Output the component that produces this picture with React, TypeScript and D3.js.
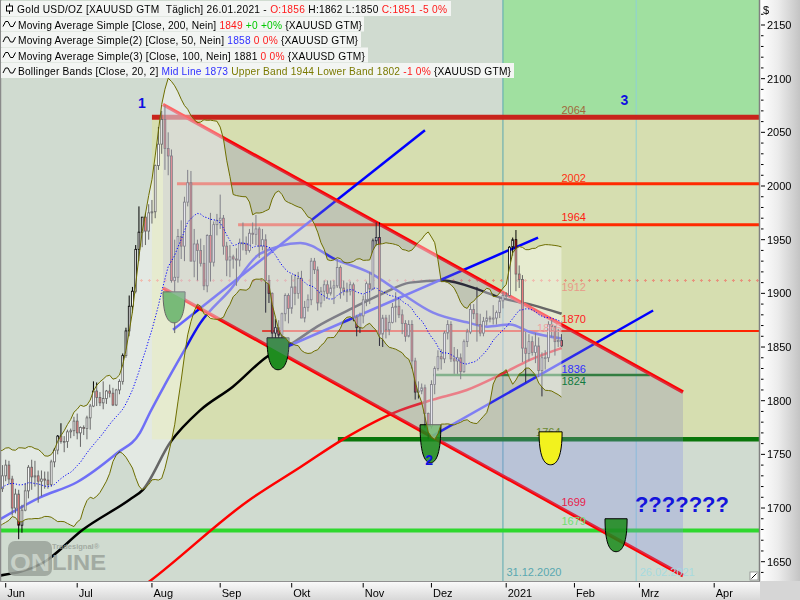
import React from 'react';
import * as d3 from 'd3';

// ---------- DATA ----------
// weekday bar index: 0 = 1 Jun 2020
const FIRST_BAR = -21; // first candle = 1 May 2020
// [open, high, low, close]
const candles: number[][] = [
  // May 2020
  [1687,1703,1680,1700],[1700,1715,1692,1702],[1702,1711,1698,1705],[1705,1708,1681,1685],[1685,1726,1683,1725],
  [1725,1727,1698,1702],[1702,1714,1693,1697],[1697,1707,1693,1701],[1701,1717,1698,1715],[1715,1736,1710,1731],
  [1731,1746,1727,1743],[1743,1765,1726,1733],[1733,1749,1726,1745],[1745,1751,1740,1748],[1748,1749,1718,1726],
  [1726,1737,1722,1735],[1735,1737,1724,1728],[1728,1735,1700,1710],[1710,1716,1693,1708],[1708,1727,1700,1718],
  [1718,1740,1715,1730],
  // Jun 2020
  [1730,1745,1725,1740],[1740,1744,1722,1727],[1727,1730,1693,1700],[1700,1718,1695,1713],[1713,1717,1671,1684],
  [1684,1703,1677,1698],[1698,1723,1697,1716],[1716,1740,1709,1738],[1738,1745,1717,1729],[1729,1744,1720,1730],
  [1730,1735,1705,1725],[1725,1735,1711,1727],[1727,1734,1718,1726],[1726,1734,1718,1722],[1722,1745,1720,1743],
  [1743,1756,1738,1754],[1754,1768,1750,1767],[1767,1779,1760,1762],[1762,1767,1752,1762],[1762,1773,1756,1771],
  [1771,1774,1765,1772],[1772,1785,1767,1781],
  // Jul 2020
  [1781,1788,1764,1770],[1770,1776,1757,1775],[1775,1777,1768,1774],[1774,1786,1764,1784],[1784,1797,1773,1795],
  [1795,1818,1794,1809],[1809,1817,1795,1803],[1803,1808,1795,1798],[1798,1818,1792,1802],[1802,1810,1797,1809],
  [1809,1815,1803,1807],[1807,1812,1795,1796],[1796,1811,1795,1810],[1810,1820,1806,1818],[1818,1844,1815,1842],
  [1842,1868,1840,1865],[1865,1898,1860,1888],[1888,1906,1882,1902],[1902,1945,1900,1941],[1941,1981,1930,1957],
  [1957,1970,1943,1971],[1971,1975,1945,1958],[1958,1983,1950,1975],
  // Aug 2020
  [1975,1987,1965,1976],[1976,2020,1970,2019],[2019,2055,2015,2039],[2039,2070,2030,2062],[2062,2075,2015,2035],
  [2035,2050,2010,2028],[2028,2034,1910,1912],[1912,1950,1863,1915],[1915,1960,1910,1953],[1953,1968,1932,1944],
  [1944,1990,1930,1985],[1985,2015,1981,2003],[2003,2014,1930,1930],[1930,1960,1915,1946],[1946,1950,1912,1940],
  [1940,1951,1925,1928],[1928,1945,1903,1907],[1907,1955,1901,1954],[1954,1975,1911,1929],[1929,1967,1925,1964],
  [1964,1974,1954,1968],
  // Sep 2020
  [1968,1992,1960,1970],[1970,1973,1936,1944],[1944,1948,1916,1931],[1931,1945,1915,1934],[1934,1936,1923,1932],
  [1932,1942,1907,1931],[1931,1951,1925,1947],[1947,1966,1940,1946],[1946,1953,1936,1940],[1940,1960,1938,1956],
  [1956,1966,1946,1955],[1955,1973,1945,1960],[1960,1962,1933,1944],[1944,1960,1940,1950],[1950,1955,1882,1912],
  [1912,1917,1891,1900],[1900,1901,1855,1863],[1863,1876,1848,1868],[1868,1875,1849,1861],[1861,1882,1855,1881],
  [1881,1900,1874,1898],[1898,1900,1872,1886],
  // Oct 2020
  [1886,1917,1881,1906],[1906,1918,1889,1900],[1900,1920,1895,1914],[1914,1921,1877,1877],[1877,1893,1873,1887],
  [1887,1899,1883,1894],[1894,1933,1889,1930],[1930,1933,1918,1922],[1922,1925,1884,1891],[1891,1906,1887,1902],
  [1902,1912,1893,1908],[1908,1912,1895,1900],[1900,1912,1898,1905],[1905,1912,1890,1907],[1907,1932,1905,1924],
  [1924,1926,1895,1905],[1905,1912,1898,1902],[1902,1910,1892,1902],[1902,1911,1898,1908],[1908,1910,1874,1878],
  [1878,1880,1860,1868],[1868,1882,1863,1879],
  // Nov 2020
  [1879,1898,1872,1894],[1894,1911,1888,1909],[1909,1920,1890,1904],[1904,1951,1903,1949],[1949,1966,1944,1952],
  [1952,1966,1851,1862],[1862,1880,1850,1877],[1877,1880,1858,1866],[1866,1880,1861,1873],[1873,1891,1872,1887],
  [1887,1901,1873,1888],[1888,1895,1877,1880],[1880,1885,1862,1872],[1872,1875,1855,1860],[1860,1875,1859,1871],
  [1871,1875,1830,1837],[1837,1840,1801,1808],[1808,1818,1802,1809],[1809,1816,1806,1812],[1812,1815,1775,1788],
  [1788,1789,1764,1776],
  // Dec 2020
  [1776,1819,1774,1815],[1815,1832,1806,1830],[1830,1847,1828,1841],[1841,1848,1829,1839],[1839,1865,1835,1863],
  [1863,1875,1857,1871],[1871,1874,1836,1839],[1839,1850,1825,1837],[1837,1848,1825,1840],[1840,1844,1820,1827],
  [1827,1857,1826,1855],[1855,1867,1850,1864],[1864,1890,1862,1885],[1885,1890,1876,1881],[1881,1906,1855,1871],
  [1871,1881,1860,1863],[1863,1878,1860,1874],[1874,1884,1870,1877],[1877,1879,1873,1876],[1876,1889,1871,1877],
  [1877,1884,1871,1882],[1882,1896,1877,1893],[1893,1901,1886,1898],
  // Jan 2021
  [1898,1901,1895,1898],[1898,1944,1897,1943],[1943,1952,1935,1950],[1950,1959,1902,1918],[1918,1926,1905,1913],
  [1913,1917,1836,1849],[1849,1864,1817,1844],[1844,1862,1837,1855],[1855,1860,1842,1845],[1845,1863,1835,1851],
  [1851,1859,1822,1828],[1828,1845,1804,1840],[1840,1847,1829,1840],[1840,1874,1836,1871],[1871,1875,1859,1869],
  [1869,1870,1842,1855],[1855,1867,1850,1856],[1856,1862,1850,1851],
];

const monthLabels = ['Jun', 'Jul', 'Aug', 'Sep', 'Okt', 'Nov', 'Dez', '2021', 'Feb', 'Mrz', 'Apr'];
const monthStarts = [0, 22, 45, 66, 88, 110, 131, 154, 175, 195, 218];

// moving averages: [bar index, value]
const sma50: number[][] = [
  [-2,1689],[10.6,1710],[21.9,1724],[34.2,1751],[41.3,1770],[44.4,1789],[49,1815],[54.6,1845],[59.8,1872],
  [69,1903],[78.3,1937],[90.6,1947],[101.9,1931],[112.1,1919],[121.3,1901],[131.5,1882],[141.9,1873],
  [148.1,1869],[155.2,1871],[161.3,1864],[171,1858],
];
const sma100: number[][] = [
  [-2,1637],[11.5,1649],[23.8,1680],[38.2,1708],[42.2,1717],[50.6,1761],[59.8,1791],[69.9,1813],[80.4,1841],
  [88.4,1854],[95.8,1869],[105.9,1885],[116.1,1900],[124.4,1910],[134.6,1912],[145.9,1903],[152.1,1896],
  [162.2,1889],[171,1881],
];
const sma200: number[][] = [
  [40,1622],[44.4,1632],[75.2,1708],[90.6,1738],[103.8,1764],[121.3,1791],[131.5,1801],[141.9,1810],
  [152.1,1824],[161.3,1838],[171,1849],
];

// channel (two parallel red lines) and blue trend lines: [[idx, price], [idx, price]]
const channelUpper = [[48.4, 2076], [208.4, 1808]];
const channelLower = [[48.4, 1905], [208.4, 1637]];
const trendLines = [
  [[51.5, 1866], [129, 2052]],
  [[84, 1847], [163.8, 1952]],
  [[131.2, 1767], [199.2, 1884]],
];

// horizontal levels
const levelPrices = [2064, 2002, 1964, 1912, 1865, 1824, 1764, 1679];
const levelFrom = [45, 52.7, 71.5, 41.3, 78.9, 131.5, 102.2, -3];
const levelTo = [240, 240, 240, 240, 240, 198.2, 240, 240];

const levelLabels = ['2064', '2002', '1964', '1912', '1870', '1865', '1836', '1824', '1764', '1699', '1679'];
const levelLabelIdx = [171, 171, 171, 171, 171, 163.5, 171, 171, 163.2, 171, 171];
const levelLabelPrice = [2067.1, 2003.8, 1967, 1902.3, 1872.5, 1864.2, 1826, 1814.3, 1767.3, 1701.7, 1684.4];

// vertical date markers
const dateMarks = ['31.12.2020', '26.02.2021'];
const dateMarkIdx = [153, 194];

// zones: green (top right) and khaki
const greenZone = { from: 153, top: 2200, bottom: 2064 };
const khakiZone = { from: 45, top: 2064, bottom: 1764 };

// "cup" markers: [idxLeft, idxRight, priceTop, priceBottom]
const cups = [
  [48.4, 55.2, 1901.4, 1872.5],
  [80.4, 87.2, 1858.6, 1828.8],
  [127.5, 133.9, 1777.6, 1742.2],
  [164.1, 171.2, 1771, 1740.3],
  [184.4, 191.2, 1690, 1659.3],
];

// wave annotations
const waveTexts = ['1', '2', '3', '???????'];
const waveIdx = [40.7, 129.1, 189.2, 193.6];
const wavePrice = [2072.7, 1740.5, 2075.5, 1696.5];

const legendRows = [
  [['Gold USD/OZ [XAUUSD GTM  Täglich] 26.01.2021 - ', 'k'], ['O:1856', 'r'], [' H:1862 L:1850 ', 'k'], ['C:1851 -5 0%', 'r']],
  [['Moving Average Simple [Close, 200, Nein] ', 'k'], ['1849', 'r'], [' +0 +0%', 'g'], [' {XAUUSD GTM}', 'k']],
  [['Moving Average Simple(2) [Close, 50, Nein] ', 'k'], ['1858', 'b'], [' 0 0%', 'r'], [' {XAUUSD GTM}', 'k']],
  [['Moving Average Simple(3) [Close, 100, Nein] 1881', 'k'], [' 0 0%', 'r'], [' {XAUUSD GTM}', 'k']],
  [['Bollinger Bands [Close, 20, 2] ', 'k'], ['Mid Line 1873', 'b'], [' Upper Band 1944 Lower Band 1802', 'o'], [' -1 0%', 'r'], [' {XAUUSD GTM}', 'k']],
];

// ---------- STYLES ----------
const FONT = '"Liberation Sans", Arial, sans-serif';
const legendColors: Record<string, string> = { k: '#000000', r: '#ff1a1a', g: '#00c800', b: '#3030ff', o: '#7a7a00' };
const legendTextLen = [430, 344, 340, 347, 493];
const legendBgWidth = [450, 363, 360, 367, 513];
const levelStyle = [
  { stroke: '#c8241c', w: 5 },
  { stroke: '#ff2a00', w: 3 },
  { stroke: '#ff2a00', w: 3 },
  { stroke: '#e8907c', w: 1, dotted: true },
  { stroke: '#ff2400', w: 2 },
  { stroke: '#0c780c', w: 2.5 },
  { stroke: '#0a760a', w: 4.5 },
  { stroke: '#2ed82e', w: 4 },
];
const levelLabelColors = ['#a0683c', '#ff3010', '#ff2010', '#e89a88', '#ff2020', '#f0a4a4', '#3030ff', '#107a40', '#6a8a30', '#e8204a', '#70e070'];
const dateMarkColors = ['#5aa8b0', '#8ecfd6'];
const dateTextColors = ['#5aa8b0', '#a6dadf'];

const PLOT_W = 760;
const PLOT_H = 581;

function cupPath(x0: number, x1: number, yt: number, yb: number) {
  const w = x1 - x0, h = yb - yt, xm = (x0 + x1) / 2;
  return `M${x0},${yt}L${x1},${yt}C${x1},${yt + h * 0.72} ${xm + w * 0.3},${yb} ${xm},${yb}C${xm - w * 0.3},${yb} ${x0},${yt + h * 0.72} ${x0},${yt}Z`;
}

export default function App() {
  const x = d3.scaleLinear().domain([monthStarts[0], monthStarts[monthStarts.length - 1]]).range([5.7, 714.2]);
  const y = d3.scaleLinear().domain([1650, 2150]).range([561.7, 25]);

  // Bollinger bands (20, 2) computed from closes
  const closes = candles.map((c) => c[3]);
  const bb: { i: number; m: number; u: number; l: number }[] = [];
  for (let k = 19; k < closes.length; k++) {
    const win = closes.slice(k - 19, k + 1);
    const m = d3.mean(win) as number;
    const sd = Math.sqrt(d3.mean(win, (v) => (v - m) * (v - m)) as number);
    const i = k + FIRST_BAR;
    if (i >= -3) bb.push({ i, m, u: m + 2 * sd, l: m - 2 * sd });
  }

  const bbArea = d3.area<any>().x((d) => x(d.i)).y0((d) => y(d.l)).y1((d) => y(d.u))(bb) || '';
  const bbUp = d3.line<any>().x((d) => x(d.i)).y((d) => y(d.u))(bb) || '';
  const bbLo = d3.line<any>().x((d) => x(d.i)).y((d) => y(d.l))(bb) || '';
  const bbMid = d3.line<any>().x((d) => x(d.i)).y((d) => y(d.m))(bb) || '';

  const smaLine = d3.line<number[]>().x((d) => x(d[0])).y((d) => y(d[1])).curve(d3.curveMonotoneX);
  const seg = d3.line<number[]>().x((d) => x(d[0])).y((d) => y(d[1]));

  const channelPoly = seg([channelUpper[0], channelUpper[1], channelLower[1], channelLower[0]]) + 'Z';
  const splitY = y(1764);

  const cupEls = cups.map((c) => cupPath(x(c[0]), x(c[1]), y(c[2]), y(c[3])));

  const majorTicks = d3.range(1650, 2151, 50);
  const minorTicks = d3.range(1640, 2161, 10).filter((v) => v % 50 !== 0);

  return (
    <svg width={800} height={600} style={{ position: 'fixed', left: 0, top: 0 }} fontFamily={FONT}>
      <defs>
        <clipPath id="plot"><rect x={1} y={0} width={PLOT_W - 2} height={PLOT_H} /></clipPath>
        <clipPath id="above"><rect x={0} y={0} width={PLOT_W} height={splitY} /></clipPath>
        <clipPath id="below"><rect x={0} y={splitY} width={PLOT_W} height={PLOT_H - splitY} /></clipPath>
        <linearGradient id="rAxis" x1="0" x2="1" y1="0" y2="0">
          <stop offset="0" stopColor="#ffffff" />
          <stop offset="0.45" stopColor="#ececec" />
          <stop offset="1" stopColor="#c4c4c4" />
        </linearGradient>
        <linearGradient id="bAxis" x1="0" x2="0" y1="0" y2="1">
          <stop offset="0" stopColor="#fbfbfb" />
          <stop offset="1" stopColor="#d8d8d8" />
        </linearGradient>
      </defs>

      {/* axes backgrounds */}
      <rect x={PLOT_W} y={0} width={40} height={PLOT_H} fill="url(#rAxis)" />
      <rect x={0} y={PLOT_H} width={PLOT_W} height={19} fill="url(#bAxis)" />
      <rect x={PLOT_W} y={PLOT_H} width={40} height={19} fill="#d6d6d6" />

      <g clipPath="url(#plot)">
        <rect x={0} y={0} width={PLOT_W} height={PLOT_H} fill="#d0dbd0" />
        <rect x={x(greenZone.from)} y={y(greenZone.top)} width={PLOT_W - x(greenZone.from)} height={y(greenZone.bottom) - y(greenZone.top)} fill="#a0e0a0" />
        <rect x={x(khakiZone.from)} y={y(khakiZone.top)} width={PLOT_W - x(khakiZone.from)} height={y(khakiZone.bottom) - y(khakiZone.top)} fill="#d6deb0" />

        {dateMarkIdx.map((d, i) => (
          <line key={'vm' + i} x1={x(d)} x2={x(d)} y1={0} y2={PLOT_H} stroke={dateMarkColors[i]} strokeWidth={1} />
        ))}

        {levelPrices.map((p, i) => {
          const st = levelStyle[i];
          const x1 = x(levelFrom[i]);
          const x2 = Math.min(x(levelTo[i]), PLOT_W);
          if (st.dotted) {
            return (
              <g key={'lv' + i}>
                <line x1={x1} x2={x2} y1={y(p)} y2={y(p)} stroke={st.stroke} strokeWidth={1} strokeDasharray="3 5" />
                <line x1={x1 + 1} x2={x2} y1={y(p)} y2={y(p)} stroke={st.stroke} strokeWidth={3} strokeDasharray="1 7" />
              </g>
            );
          }
          return <line key={'lv' + i} x1={x1} x2={x2} y1={y(p)} y2={y(p)} stroke={st.stroke} strokeWidth={st.w} />;
        })}

        <path d={smaLine(sma200) || ''} fill="none" stroke="#ff0000" strokeWidth={2.5} />
        <path d={smaLine(sma100) || ''} fill="none" stroke="#000000" strokeWidth={2.5} />
        <path d={smaLine(sma50) || ''} fill="none" stroke="#1010f0" strokeWidth={2.5} />

        {trendLines.map((t, i) => (
          <path key={'tl' + i} d={seg(t) || ''} stroke="#0000ff" strokeWidth={2.5} fill="none" />
        ))}
        <path d={seg(channelUpper) || ''} stroke="#ff0000" strokeWidth={3.5} fill="none" />
        <path d={seg(channelLower) || ''} stroke="#ff0000" strokeWidth={3.5} fill="none" />

        {candles.map((c, k) => {
          const i = k + FIRST_BAR;
          if (i < -3) return null;
          const cx = x(i);
          const up = c[3] >= c[0];
          const top = y(Math.max(c[0], c[3]));
          const bot = y(Math.min(c[0], c[3]));
          return (
            <g key={'c' + k}>
              <line x1={cx} x2={cx} y1={y(c[1])} y2={y(c[2])} stroke="#000" strokeWidth={1} />
              <rect x={cx - 0.9} y={top} width={1.8} height={Math.max(bot - top, 0.8)} fill={up ? '#ffffff' : '#e82626'} stroke="#000" strokeWidth={0.8} />
            </g>
          );
        })}

        {[0, 1].map((j) => (
          <path key={'cupA' + j} d={cupEls[j]} fill="#1f8c1f" stroke="#000" strokeWidth={1} />
        ))}

        <path d={channelPoly} fill="rgb(141,139,189)" fillOpacity={0.3} clipPath="url(#above)" />
        <path d={channelPoly} fill="rgb(131,139,231)" fillOpacity={0.3} clipPath="url(#below)" />

        {[2, 4].map((j) => (
          <path key={'cupB' + j} d={cupEls[j]} fill="#1a8a1a" fillOpacity={0.85} stroke="#000" strokeWidth={1} />
        ))}

        <path d={bbArea} fill="#ffffff" fillOpacity={0.4} />
        <path d={bbUp} fill="none" stroke="#6e6e00" strokeWidth={1} />
        <path d={bbLo} fill="none" stroke="#6e6e00" strokeWidth={1} />
        <path d={bbMid} fill="none" stroke="#0000ff" strokeWidth={1} strokeDasharray="1.2 1.8" />

        {levelLabels.map((t, i) => (
          <text key={'ll' + i} x={x(levelLabelIdx[i])} y={y(levelLabelPrice[i])} fill={levelLabelColors[i]} fontSize={11}>{t}</text>
        ))}

        <path d={cupEls[3]} fill="#f2f21e" stroke="#000" strokeWidth={1} />

        {dateMarks.map((t, i) => (
          <text key={'dm' + i} x={x(dateMarkIdx[i]) + 3.5} y={576} fill={dateTextColors[i]} fontSize={11}>{t}</text>
        ))}

        <text x={x(waveIdx[0])} y={y(wavePrice[0])} fill="#1010e0" fontSize={14} fontWeight="bold">{waveTexts[0]}</text>
        <text x={x(waveIdx[1])} y={y(wavePrice[1])} fill="#1010e0" fontSize={14} fontWeight="bold">{waveTexts[1]}</text>
        <text x={x(waveIdx[2])} y={y(wavePrice[2])} fill="#1010e0" fontSize={14} fontWeight="bold">{waveTexts[2]}</text>
        <text x={x(waveIdx[3])} y={y(wavePrice[3])} fill="#1414dc" fontSize={22} fontWeight="bold">{waveTexts[3]}</text>

        {/* watermark */}
        <g opacity={0.85}>
          <rect x={8} y={541} width={44} height={35} rx={7} fill="#9ba39b" />
          <text x={10} y={571} fontSize={24} fontWeight="bold" fill="#c6cfc6" textLength={40} lengthAdjust="spacingAndGlyphs">ON</text>
          <text x={52} y={570} fontSize={22} fontWeight="bold" fill="#9ba39b" textLength={54} lengthAdjust="spacingAndGlyphs">LINE</text>
          <text x={52} y={549} fontSize={7.5} fontWeight="bold" fill="#9ba39b">Tradesignal®</text>
        </g>

        <rect x={750} y={572} width={8} height={8} fill="#ffffff" stroke="#888" strokeWidth={0.8} />
        <line x1={751.5} y1={578.5} x2={756.5} y2={573.5} stroke="#000" strokeWidth={1} />
      </g>

      {/* frame */}
      <line x1={0.5} x2={0.5} y1={0} y2={PLOT_H} stroke="#8a8a8a" strokeWidth={1.5} />
      <line x1={PLOT_W - 0.5} x2={PLOT_W - 0.5} y1={0} y2={PLOT_H} stroke="#808080" strokeWidth={1.5} />
      <line x1={0} x2={PLOT_W} y1={PLOT_H + 0.5} y2={PLOT_H + 0.5} stroke="#909090" strokeWidth={1} />

      {/* right axis */}
      <text x={763} y={14} fontSize={11} fill="#000">$</text>
      {minorTicks.map((v) => (
        <line key={'mt' + v} x1={761} x2={763.5} y1={y(v)} y2={y(v)} stroke="#000" strokeWidth={1} />
      ))}
      {majorTicks.map((v) => (
        <g key={'Mt' + v}>
          <line x1={761} x2={765} y1={y(v)} y2={y(v)} stroke="#000" strokeWidth={1} />
          <text x={767} y={y(v)} dy="0.36em" fontSize={11} fill="#000">{v}</text>
        </g>
      ))}

      {/* bottom axis */}
      {monthStarts.map((m, i) => (
        <g key={'mo' + i}>
          <line x1={x(m)} x2={x(m)} y1={583} y2={587.5} stroke="#000" strokeWidth={1} />
          <text x={x(m) + 1.5} y={597} fontSize={11} fill="#000">{monthLabels[i]}</text>
        </g>
      ))}

      {/* legend */}
      {legendRows.map((row, r) => {
        const top = 1 + r * 15.5;
        return (
          <g key={'lg' + r}>
            <rect x={1} y={top} width={legendBgWidth[r]} height={15} fill="#f3f5f3" />
            {r === 0 ? (
              <g stroke="#000" strokeWidth={1} fill="#fff">
                <line x1={9.5} x2={9.5} y1={top + 2.5} y2={top + 13} />
                <rect x={6.5} y={top + 5} width={6} height={5} />
              </g>
            ) : (
              <path d={`M3,${top + 10}L5.5,${top + 5}L8,${top + 5}L10.5,${top + 10}L13,${top + 10}L15.5,${top + 5}`} fill="none" stroke="#000" strokeWidth={1} />
            )}
            <text x={r === 0 ? 17 : 18} y={top + 12.3} fontSize={10.2} textLength={legendTextLen[r]} lengthAdjust="spacing" style={{ whiteSpace: 'pre' }}>
              {row.map((p, j) => (
                <tspan key={j} fill={legendColors[p[1]]}>{p[0]}</tspan>
              ))}
            </text>
          </g>
        );
      })}
    </svg>
  );
}
